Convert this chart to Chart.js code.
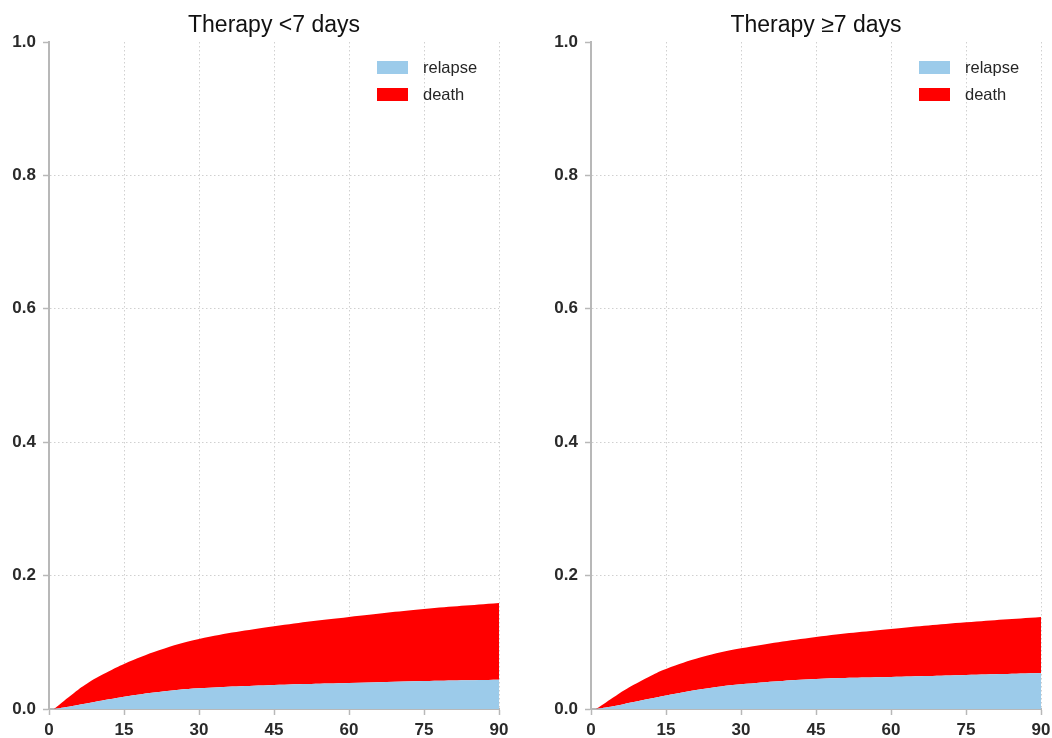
<!DOCTYPE html>
<html>
<head>
<meta charset="utf-8">
<script src="https://cdn.jsdelivr.net/npm/chart.js@4.4.1/dist/chart.umd.min.js"></script>
<style>
  html, body { margin: 0; padding: 0; background: #ffffff; }
  #wrap { position: relative; width: 1052px; height: 738px; overflow: hidden; }
  .panel { position: absolute; top: 0; width: 526px; height: 738px; }
  #leftPanel { left: 0; }
  #rightPanel { left: 526px; }
</style>
</head>
<body>
<div id="wrap">
  <div class="panel" id="leftPanel"><canvas id="chartShort" width="526" height="738"></canvas></div>
  <div class="panel" id="rightPanel"><canvas id="chartLong" width="526" height="738"></canvas></div>
</div>
<script>
// Days since start of follow-up at which the cumulative incidence is sampled
const days = [1, 5, 8, 12, 15, 22, 30, 45, 60, 75, 90];

// Therapy < 7 days: cumulative incidence of relapse, and of death stacked on top
const relapseShort = [0, 0.005, 0.009, 0.0145, 0.0185, 0.0255, 0.031, 0.036, 0.039, 0.042, 0.044];
const deathShort   = [0, 0.019, 0.031, 0.042, 0.049, 0.0625, 0.074, 0.088, 0.099, 0.108, 0.115];

// Therapy >= 7 days
const relapseLong = [0, 0.005, 0.0098, 0.0158, 0.0202, 0.0295, 0.037, 0.045, 0.048, 0.051, 0.054];
const deathLong   = [0, 0.015, 0.0242, 0.0342, 0.0398, 0.048, 0.054, 0.063, 0.072, 0.079, 0.084];

const xTicks = [0, 15, 30, 45, 60, 75, 90];
const yTicks = [0, 0.2, 0.4, 0.6, 0.8, 1.0];

const titles = ['Therapy <7 days', 'Therapy \u22657 days'];
const seriesNames = ['relapse', 'death'];
const seriesColors = ['#9ccbea', '#ff0000'];

const FONT = '"Liberation Sans", Arial, Helvetica, sans-serif';
const AXIS_GREY = '#b8b8b8';
const GRID_GREY = '#d0d0d0';

// Panel title, centred over the plot area
const panelTitle = {
  id: 'panelTitle',
  afterDraw(chart, args, opts) {
    const { ctx, chartArea } = chart;
    ctx.save();
    ctx.fillStyle = '#111111';
    ctx.font = '23px ' + FONT;
    ctx.textAlign = 'center';
    ctx.textBaseline = 'alphabetic';
    ctx.fillText(opts.text, (chartArea.left + chartArea.right) / 2, 32);
    ctx.restore();
  }
};

// Legend drawn inside the plot area, near its upper right corner
const cornerLegend = {
  id: 'cornerLegend',
  afterDraw(chart) {
    const { ctx, chartArea } = chart;
    const x0 = chartArea.right - 122;
    const y0 = chartArea.top + 19;
    ctx.save();
    chart.data.datasets.forEach((ds, i) => {
      const y = y0 + i * 27;
      ctx.fillStyle = ds.backgroundColor;
      ctx.fillRect(x0, y, 31, 13);
      ctx.fillStyle = '#262626';
      ctx.font = '16.5px ' + FONT;
      ctx.textBaseline = 'middle';
      ctx.textAlign = 'left';
      ctx.fillText(ds.label, x0 + 46, y + 7);
    });
    ctx.restore();
  }
};

function toPoints(values) {
  return days.map((d, i) => ({ x: d, y: values[i] }));
}

function makeChart(canvasId, title, relapse, death, yAxisWidth, rightPad) {
  const ctx = document.getElementById(canvasId).getContext('2d');
  return new Chart(ctx, {
    type: 'line',
    data: {
      datasets: [
        {
          label: seriesNames[0],
          data: toPoints(relapse),
          backgroundColor: seriesColors[0],
          borderColor: seriesColors[0],
          borderWidth: 0,
          pointRadius: 0,
          fill: 'origin',
          tension: 0.4
        },
        {
          label: seriesNames[1],
          data: toPoints(death),
          backgroundColor: seriesColors[1],
          borderColor: seriesColors[1],
          borderWidth: 0,
          pointRadius: 0,
          fill: '-1',
          tension: 0.4
        }
      ]
    },
    options: {
      responsive: false,
      animation: false,
      devicePixelRatio: 1,
      layout: { padding: { left: 0, right: rightPad, top: 42, bottom: 0 } },
      plugins: {
        legend: { display: false },
        tooltip: { enabled: false },
        title: { display: false },
        panelTitle: { text: title }
      },
      scales: {
        x: {
          type: 'linear',
          min: 0,
          max: 90,
          afterBuildTicks(scale) { scale.ticks = xTicks.map(v => ({ value: v })); },
          afterFit(scale) {
            scale.height = 29;
            scale.paddingLeft = 0;
            scale.paddingRight = 0;
          },
          ticks: {
            color: '#2a2a2a',
            font: { family: FONT, size: 17, weight: 'bold' },
            padding: 5,
            maxRotation: 0,
            callback: v => String(v)
          },
          grid: {
            color: c => (c.tick && c.tick.value === 0) ? 'rgba(0,0,0,0)' : GRID_GREY,
            lineWidth: 1,
            drawTicks: true,
            tickLength: 6,
            tickColor: AXIS_GREY,
            tickWidth: 1.5
          },
          border: { display: true, color: AXIS_GREY, width: 2, dash: [1.5, 2.5] }
        },
        y: {
          type: 'linear',
          stacked: true,
          min: 0,
          max: 1,
          afterBuildTicks(scale) { scale.ticks = yTicks.map(v => ({ value: v })); },
          afterFit(scale) {
            scale.width = yAxisWidth;
            scale.paddingTop = 0;
            scale.paddingBottom = 0;
          },
          ticks: {
            color: '#2a2a2a',
            font: { family: FONT, size: 17, weight: 'bold' },
            padding: 7,
            callback: v => Number(v).toFixed(1)
          },
          grid: {
            color: c => (c.tick && (c.tick.value === 0 || c.tick.value === 1)) ? 'rgba(0,0,0,0)' : GRID_GREY,
            lineWidth: 1,
            drawTicks: true,
            tickLength: 6,
            tickColor: AXIS_GREY,
            tickWidth: 1.5
          },
          border: { display: true, color: AXIS_GREY, width: 2, dash: [1.5, 2.5] }
        }
      }
    },
    plugins: [panelTitle, cornerLegend]
  });
}

makeChart('chartShort', titles[0], relapseShort, deathShort, 49, 27);
makeChart('chartLong', titles[1], relapseLong, deathLong, 65, 11);
</script>
</body>
</html>
